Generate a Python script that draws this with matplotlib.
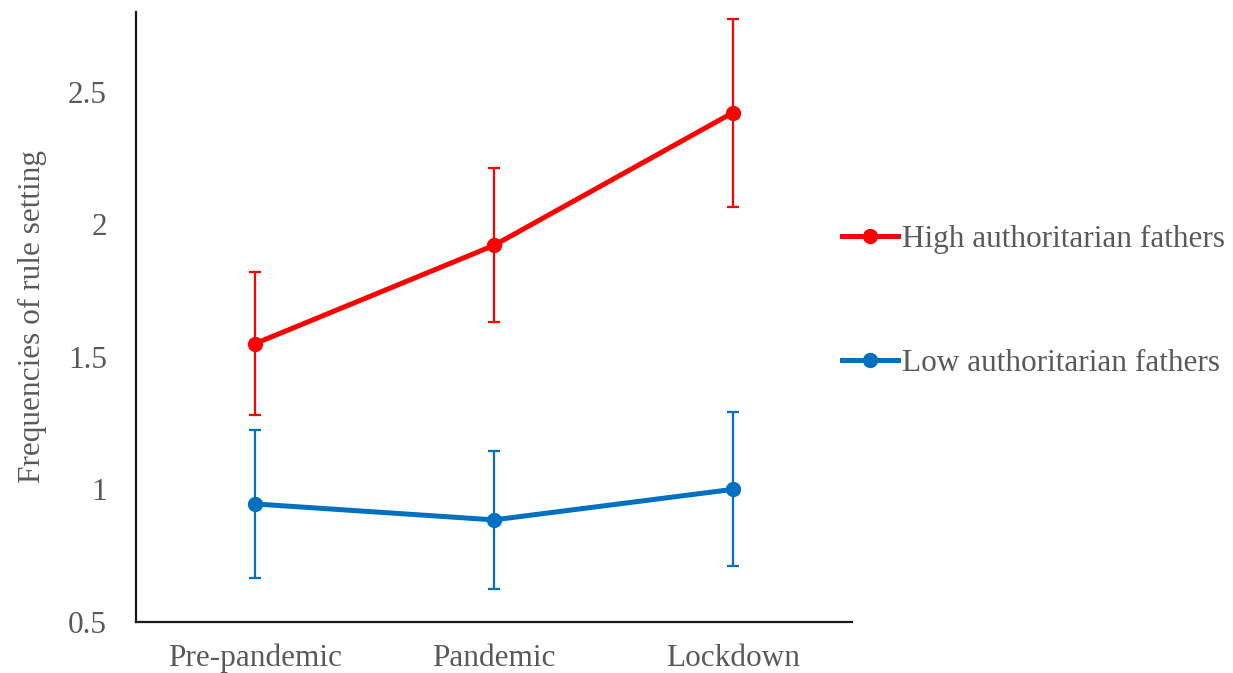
import matplotlib
matplotlib.use("Agg")
import matplotlib.pyplot as plt
from matplotlib.lines import Line2D

periods = ["Pre-pandemic", "Pandemic", "Lockdown"]
high_means = [1.55, 1.92, 2.42]
high_err = [0.27, 0.29, 0.355]
low_means = [0.945, 0.885, 1.0]
low_err = [0.28, 0.26, 0.29]
yticks = [0.5, 1, 1.5, 2, 2.5]
ytick_labels = ["0.5", "1", "1.5", "2", "2.5"]
series_names = ["High authoritarian fathers", "Low authoritarian fathers"]

RED = "#FF0000"
BLUE = "#0070C0"
TEXT = "#595959"
FS = 22.5

plt.rcParams["font.family"] = ["Liberation Serif", "DejaVu Serif"]

fig = plt.figure(figsize=(12.33, 6.73), dpi=100)
ax = fig.add_axes([0.1103, 0.0758, 0.5807, 0.9064])

x = list(range(len(periods)))
handles = []
for means, errs, color, label in [
    (high_means, high_err, RED, series_names[0]),
    (low_means, low_err, BLUE, series_names[1]),
]:
    ax.errorbar(x, means, yerr=errs, color=color, linewidth=3.6,
                marker="o", markersize=10, elinewidth=1.6,
                capsize=4.3, capthick=1.6)
    handles.append(Line2D([], [], color=color, linewidth=3.6,
                          marker="o", markersize=10, label=label))

ax.set_xlim(-0.5, 2.5)
ax.set_ylim(0.5, 2.8)
ax.set_xticks(x)
ax.set_xticklabels(periods)
ax.set_yticks(yticks)
ax.set_yticklabels(ytick_labels)
ax.tick_params(axis="both", length=0, labelsize=FS, colors=TEXT)
ax.tick_params(axis="x", pad=15.5)
ax.tick_params(axis="y", pad=21)
for side in ["top", "right"]:
    ax.spines[side].set_visible(False)
for side in ["left", "bottom"]:
    ax.spines[side].set_color("#1a1a1a")
    ax.spines[side].set_linewidth(1.6)

ax.set_ylabel("Frequencies of rule setting", fontsize=FS, color=TEXT, labelpad=15)

leg = ax.legend(handles=handles, loc="center left", bbox_to_anchor=(0.986, 0.525),
                frameon=False, fontsize=FS, labelspacing=3.05, handlelength=1.8,
                handletextpad=0.13, borderaxespad=0.0, borderpad=0.0)
for t in leg.get_texts():
    t.set_color(TEXT)

fig.savefig("out.png", dpi=100)
